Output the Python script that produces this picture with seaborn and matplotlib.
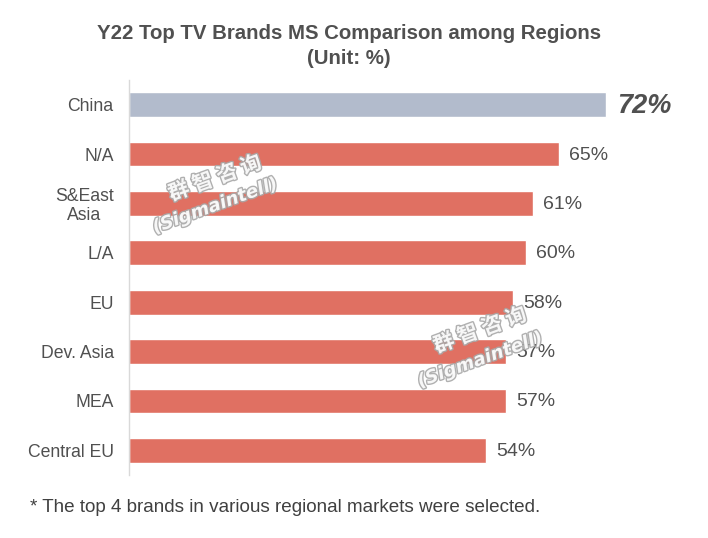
import matplotlib
matplotlib.use("Agg")
import matplotlib.pyplot as plt
import matplotlib.patheffects as pe
import seaborn as sns
import pandas as pd

regions = ["China", "N/A", "S&East\nAsia", "L/A", "EU", "Dev. Asia", "MEA", "Central EU"]
share = [72, 65, 61, 60, 58, 57, 57, 54]
labels = ["72%", "65%", "61%", "60%", "58%", "57%", "57%", "54%"]

title = "Y22 Top TV Brands MS Comparison among Regions\n(Unit: %)"
note = "* The top 4 brands in various regional markets were selected."

RED = "#E07062"
GREY_BLUE = "#B2BBCC"
TXT = "#505050"

sns.set_theme(style="white")
plt.rcParams["font.family"] = ["Liberation Sans", "DejaVu Sans"]

df = pd.DataFrame({"region": regions, "share": share})
palette = {r: (GREY_BLUE if i == 0 else RED) for i, r in enumerate(regions)}

fig = plt.figure(figsize=(7.08, 5.38), dpi=100)
W, H = 708, 538
xmax = 85
left_px, top_px, bot_px = 129, 80, 475
right_px = left_px + 6.62 * xmax
ax = fig.add_axes([left_px / W, 1 - bot_px / H, (right_px - left_px) / W, (bot_px - top_px) / H])

sns.barplot(data=df, x="share", y="region", hue="region", palette=palette,
            legend=False, width=0.5, ax=ax, saturation=1, orient="h")

ax.set_xlim(0, xmax)
ax.set_xlabel("")
ax.set_ylabel("")
ax.set_xticks([])
for s in ["top", "right", "bottom"]:
    ax.spines[s].set_visible(False)
ax.spines["left"].set_color("#D9D9D9")
ax.spines["left"].set_linewidth(1)
ax.tick_params(axis="y", length=0, pad=11, labelsize=12.7, labelcolor=TXT)
for t in ax.get_yticklabels():
    t.set_horizontalalignment("right")
    t.set_multialignment("center")
    t.set_linespacing(1.1)

for i, (v, lab) in enumerate(zip(share, labels)):
    if i == 0:
        ax.text(v + 1.7, i + 0.02, lab, va="center", ha="left", fontsize=19.5,
                fontweight="bold", fontstyle="italic", color=TXT)
    else:
        ax.text(v + 1.5, i + 0.02, lab, va="center", ha="left", fontsize=14, color=TXT)

fig.text(349 / W, 1 - 46 / H, title, ha="center", va="center", fontsize=14.7,
         fontweight="bold", color=TXT, linespacing=1.35)
fig.text(30 / W, 1 - 508 / H, note, ha="left", va="center", fontsize=13.6, color="#404040")

wm = [pe.withStroke(linewidth=2, foreground="#A8A8A8")]
for (cx, cy1, cy2) in [(215, 178, 206), (480, 330, 360)]:
    fig.text(cx / W, 1 - cy1 / H, "群 智 咨 询", ha="center", va="center", rotation=20,
             fontsize=15, fontweight="bold", color="white", alpha=0.9,
             family=["Noto Sans CJK SC", "DejaVu Sans"], path_effects=wm)
    fig.text(cx / W, 1 - cy2 / H, "(Sigmaintell)", ha="center", va="center", rotation=20,
             fontsize=13, fontweight="bold", fontstyle="italic", color="white", alpha=0.9,
             family=["DejaVu Sans"], path_effects=wm)

fig.savefig("out.png", dpi=100, facecolor="white")
